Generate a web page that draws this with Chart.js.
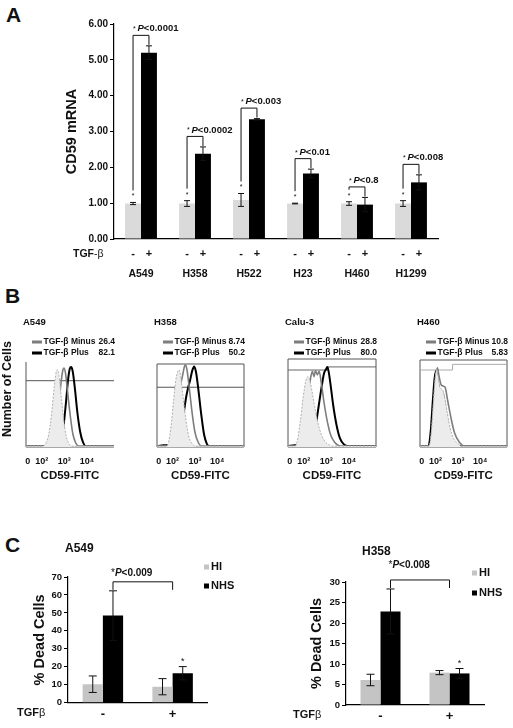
<!DOCTYPE html>
<html>
<head>
<meta charset="utf-8">
<script src="https://cdn.jsdelivr.net/npm/chart.js@4.4.1/dist/chart.umd.min.js"></script>
<style>
  body { margin: 0; background: #fff; width: 513px; height: 728px; position: relative; overflow: hidden; font-family: Arial, "Liberation Sans", sans-serif; }
  canvas { position: absolute; }
  .panel { position: absolute; font-weight: bold; font-size: 21px; line-height: 1; color: #111; }
</style>
</head>
<body>
<div class="panel" style="left:6px;top:4px">A</div>
<div class="panel" style="left:5px;top:285px">B</div>
<div class="panel" style="left:5px;top:534px">C</div>

<canvas id="chartA" width="513" height="290" style="left:0;top:0"></canvas>
<canvas id="flow1" width="128" height="170" style="left:0;top:315px"></canvas>
<canvas id="flow2" width="128" height="170" style="left:130px;top:315px"></canvas>
<canvas id="flow3" width="128" height="170" style="left:260px;top:315px"></canvas>
<canvas id="flow4" width="123" height="170" style="left:390px;top:315px"></canvas>
<canvas id="deadA549" width="250" height="188" style="left:0;top:540px"></canvas>
<canvas id="deadH358" width="253" height="188" style="left:260px;top:540px"></canvas>

<script>
// ---- A: CD59 mRNA, TGF-beta minus / plus ----
const cellLines = ['A549', 'H358', 'H522', 'H23', 'H460', 'H1299'];
const mrnaMinus = [0.99, 0.99, 1.09, 0.99, 0.99, 0.99];
const mrnaMinusErr = [0.03, 0.08, 0.18, 0.01, 0.05, 0.08];
const mrnaPlus = [5.20, 2.38, 3.34, 1.83, 0.96, 1.58];
const mrnaPlusErr = [0.19, 0.19, 0.02, 0.12, 0.20, 0.21];
const mrnaPvals = ['P<0.0001', 'P<0.0002', 'P<0.003', 'P<0.01', 'P<0.8', 'P<0.008'];

// ---- B: CD59-FITC histograms (x = log decades, y = % of panel height) ----
const flowTitles = ['A549', 'H358', 'Calu-3', 'H460'];
const flowMinusPct = ['26.4', '8.74', '28.8', '10.8'];
const flowPlusPct = ['82.1', '50.2', '80.0', '5.83'];
const flowTicks = [1.38, 2, 3, 4];
const flowTickLabels = ['0', '10²', '10³', '10⁴'];

const a549Iso = [[1.3,1],[2.0,1],[2.15,3],[2.3,14],[2.43,38],[2.54,68],[2.63,87],[2.69,91],[2.76,84],[2.86,60],[2.97,32],[3.08,13],[3.2,4],[3.35,1],[5.2,1]];
const a549Minus = [[1.3,1],[2.35,1],[2.5,5],[2.63,20],[2.75,48],[2.85,75],[2.93,90],[2.98,93],[3.05,87],[3.15,63],[3.27,35],[3.38,15],[3.5,5],[3.65,1],[5.2,1]];
const a549Plus = [[1.3,1],[2.7,1],[2.83,6],[2.96,24],[3.07,52],[3.16,78],[3.24,92],[3.3,94],[3.37,89],[3.47,68],[3.58,40],[3.7,18],[3.82,6],[3.95,1],[5.2,1]];
const a549Gate = [[1.3,78],[5.2,78]];

const h358Iso = [[1.3,1],[1.72,1],[1.82,6],[1.93,25],[2.04,55],[2.14,80],[2.22,90],[2.29,93],[2.36,85],[2.47,60],[2.6,32],[2.73,12],[2.88,4],[3.02,1],[5.2,1]];
const h358Minus = [[1.3,1],[1.88,1],[1.98,6],[2.1,25],[2.21,50],[2.3,70],[2.38,78],[2.46,88],[2.53,97],[2.58,99],[2.65,92],[2.76,68],[2.88,40],[3.0,18],[3.14,6],[3.3,1],[5.2,1]];
const h358Plus = [[1.3,1],[1.6,2],[1.9,3],[2.1,6],[2.25,12],[2.4,25],[2.52,45],[2.62,62],[2.7,72],[2.78,80],[2.88,92],[2.97,97],[3.05,90],[3.16,68],[3.28,40],[3.41,15],[3.53,4],[3.64,1],[5.2,1]];
const h358Gate = [[1.3,72],[5.2,72]];

const calu3Iso = [[1.3,1],[1.62,1],[1.72,8],[1.85,30],[1.98,58],[2.08,74],[2.18,80],[2.26,76],[2.36,64],[2.48,46],[2.62,28],[2.78,14],[2.95,6],[3.15,2],[3.3,1],[5.2,1]];
const calu3Minus = [[1.3,1],[1.85,1],[1.95,8],[2.07,30],[2.18,55],[2.28,75],[2.38,86],[2.45,80],[2.52,87],[2.6,82],[2.68,86],[2.78,72],[2.9,50],[3.05,28],[3.2,13],[3.38,5],[3.6,1],[5.2,1]];
const calu3Plus = [[1.3,1],[1.6,2],[2.0,3],[2.25,5],[2.4,12],[2.55,28],[2.68,50],[2.8,70],[2.9,84],[2.98,88],[3.04,91],[3.1,86],[3.18,72],[3.3,48],[3.45,25],[3.6,10],[3.78,3],[3.95,1],[5.2,1]];
const calu3Gate = [[1.3,87.5],[3.08,87.5],[3.08,91],[5.2,91]];

const h460Iso = [[1.3,1],[1.7,1],[1.8,15],[1.9,50],[1.98,78],[2.05,89],[2.12,80],[2.2,68],[2.3,66],[2.4,58],[2.52,40],[2.65,22],[2.8,10],[3.0,4],[3.15,1],[5.2,1]];
const h460Minus = [[1.3,1],[1.72,1],[1.82,15],[1.92,52],[2.0,80],[2.08,91],[2.15,82],[2.24,72],[2.34,70],[2.42,69],[2.55,52],[2.7,32],[2.85,16],[3.05,6],[3.3,1],[5.2,1]];
const h460Plus = [[1.3,1],[1.68,1],[1.78,18],[1.88,55],[1.96,80],[2.04,88],[2.1,76],[2.18,64],[2.26,63],[2.34,60],[2.45,42],[2.58,22],[2.72,9],[2.9,2],[3.0,1],[5.2,1]];
const h460Gate = [[1.3,88.5],[2.76,88.5],[2.76,95],[5.2,95]];

// ---- C: % dead cells, HI vs NHS serum ----
const treatments = ['-', '+'];
const a549HI = [10.3, 8.9];
const a549HIErr = [4.6, 4.5];
const a549NHS = [48.5, 16.4];
const a549NHSErr = [13.8, 3.7];
const h358HI = [6.1, 7.9];
const h358HIErr = [1.4, 0.5];
const h358NHS = [22.8, 7.7];
const h358NHSErr = [5.5, 1.2];

Chart.defaults.font.family = 'Arial, "Liberation Sans", sans-serif';
Chart.defaults.color = '#111';
Chart.defaults.animation = false;

const FONT = 'Arial, "Liberation Sans", sans-serif';

// error bars from the value +/- err, through the y scale
const errorBars = {
    id: 'errorBars',
    afterDatasetsDraw(chart, args, opts) {
        if (!opts.errors) return;
        const { ctx } = chart;
        const y = chart.scales.y;
        ctx.save();
        ctx.strokeStyle = '#111';
        ctx.lineWidth = 1;
        opts.errors.forEach((errs, di) => {
            const vals = chart.data.datasets[di].data;
            chart.getDatasetMeta(di).data.forEach((bar, i) => {
                const t = y.getPixelForValue(vals[i] + errs[i]);
                const b = y.getPixelForValue(vals[i] - errs[i]);
                ctx.beginPath();
                ctx.moveTo(bar.x, t); ctx.lineTo(bar.x, b);
                ctx.moveTo(bar.x - opts.cap, t); ctx.lineTo(bar.x + opts.cap, t);
                ctx.moveTo(bar.x - opts.cap, b); ctx.lineTo(bar.x + opts.cap, b);
                ctx.stroke();
            });
        });
        ctx.restore();
    }
};

// brackets, p values and the TGF-beta row of panel A
const mrnaNotes = {
    id: 'mrnaNotes',
    afterDraw(chart) {
        const { ctx } = chart;
        const y = chart.scales.y;
        const g = chart.getDatasetMeta(0).data;
        const b = chart.getDatasetMeta(1).data;
        ctx.save();
        ctx.fillStyle = '#111';
        ctx.strokeStyle = '#111';
        ctx.lineWidth = 1;
        ctx.textBaseline = 'middle';
        cellLines.forEach((c, i) => {
            const gTop = y.getPixelForValue(mrnaMinus[i] + mrnaMinusErr[i]);
            const bTop = y.getPixelForValue(mrnaPlus[i] + mrnaPlusErr[i]);
            const top = Math.min(gTop, bTop) - 10.5;
            ctx.beginPath();
            ctx.moveTo(g[i].x, gTop - 12);
            ctx.lineTo(g[i].x, top);
            ctx.lineTo(b[i].x, top);
            ctx.lineTo(b[i].x, bTop - 1);
            ctx.stroke();

            ctx.textAlign = 'center';
            ctx.font = '7px ' + FONT;
            ctx.fillText('*', g[i].x, gTop - 6);
            ctx.textAlign = 'left';
            ctx.fillText('*', g[i].x, top - 6);
            ctx.font = 'italic bold 9.5px ' + FONT;
            ctx.fillText('P', g[i].x + 4.5, top - 6.5);
            const w = ctx.measureText('P').width;
            ctx.font = 'bold 9.5px ' + FONT;
            ctx.fillText(mrnaPvals[i].slice(1), g[i].x + 4.5 + w, top - 6.5);

            ctx.textAlign = 'center';
            ctx.font = 'bold 11px ' + FONT;
            ctx.fillText('-', g[i].x, 254);
            ctx.fillText('+', b[i].x, 254);
        });
        ctx.textAlign = 'left';
        ctx.font = 'bold 10.5px ' + FONT;
        ctx.fillText('TGF', 73, 254);
        const tw = ctx.measureText('TGF').width;
        ctx.font = '10.5px ' + FONT;
        ctx.fillText('-β', 73 + tw, 254);
        ctx.restore();
    }
};

new Chart(document.getElementById('chartA'), {
    type: 'bar',
    data: {
        labels: cellLines,
        datasets: [
            { label: 'TGF-β -', data: mrnaMinus, backgroundColor: '#dadada' },
            { label: 'TGF-β +', data: mrnaPlus, backgroundColor: '#000' }
        ]
    },
    options: {
        responsive: false,
        layout: { padding: { top: 24, right: 75, left: 0, bottom: 0 } },
        datasets: { bar: { barPercentage: 1, categoryPercentage: 0.59 } },
        plugins: {
            legend: { display: false },
            tooltip: { enabled: false },
            errorBars: { errors: [mrnaMinusErr, mrnaPlusErr], cap: 3 }
        },
        scales: {
            x: {
                grid: { display: false },
                border: { color: '#000', width: 1.2 },
                ticks: { font: { size: 10.5, weight: 'bold' }, padding: 21 },
                afterFit: s => { s.height = 51; }
            },
            y: {
                min: 0, max: 6,
                ticks: { stepSize: 1, font: { size: 10, weight: 'bold' }, padding: 2, callback: v => v.toFixed(2) },
                grid: { drawOnChartArea: false, drawTicks: true, tickLength: 4, color: '#000' },
                border: { color: '#000', width: 1.2 },
                title: { display: true, text: 'CD59 mRNA', font: { size: 14.5, weight: 'bold' }, padding: { top: 63 } },
                afterFit: s => { s.width = 114; }
            }
        }
    },
    plugins: [errorBars, mrnaNotes]
});

// frame, legend and titles of a histogram panel
const flowDecor = {
    id: 'flowDecor',
    beforeDatasetsDraw(chart, args, o) {
        const { ctx, chartArea: a } = chart;
        ctx.save();
        ctx.strokeStyle = '#555';
        ctx.lineWidth = 1;
        ctx.beginPath();
        if (o.fullFrame) {
            ctx.moveTo(a.right, a.bottom);
            ctx.lineTo(a.right, a.top);
            ctx.lineTo(a.left, a.top);
        } else {
            ctx.moveTo(a.left, a.top);
        }
        ctx.lineTo(a.left, a.bottom);
        ctx.lineTo(a.right, a.bottom);
        ctx.stroke();
        ctx.restore();
    },
    afterDraw(chart, args, o) {
        const { ctx, chartArea: a } = chart;
        ctx.save();
        ctx.fillStyle = '#111';
        ctx.textBaseline = 'middle';
        ctx.textAlign = 'left';
        ctx.font = 'bold 9.5px ' + FONT;
        ctx.fillText(o.title, a.left - 3, 7);
        [['#7d7d7d', 'TGF-β Minus', o.minus, 27], ['#000', 'TGF-β Plus', o.plus, 38]].forEach(([c, t, v, ly]) => {
            ctx.fillStyle = c;
            ctx.fillRect(a.left + 6, ly - 1.5, 10, 3);
            ctx.fillStyle = '#111';
            ctx.font = 'bold 8.5px ' + FONT;
            ctx.textAlign = 'left';
            ctx.fillText(t, a.left + 17.5, ly);
            ctx.textAlign = 'right';
            ctx.fillText(v, a.right + 1, ly);
        });
        if (o.yTitle) {
            ctx.translate(8, 74);
            ctx.rotate(-Math.PI / 2);
            ctx.textAlign = 'center';
            ctx.font = 'bold 12.5px ' + FONT;
            ctx.fillText(o.yTitle, 0, 0);
        }
        ctx.restore();
    }
};

function flowChart(id, i, iso, minus, plus, gate, box) {
    new Chart(document.getElementById(id), {
        type: 'line',
        data: {
            datasets: [
                { data: iso, borderColor: '#b0b0b0', borderWidth: 1, borderDash: [2, 1.5], backgroundColor: '#ececec', fill: 'origin' },
                { data: minus, borderColor: '#7d7d7d', borderWidth: 1.6, fill: false },
                { data: plus, borderColor: '#000', borderWidth: 2, fill: false },
                { data: gate, borderColor: box.gateColor, borderWidth: 1, fill: false, cubicInterpolationMode: 'default', tension: 0 }
            ]
        },
        options: {
            responsive: false,
            layout: { padding: { top: box.top, right: box.right, left: 0, bottom: 0 } },
            elements: { point: { radius: 0 }, line: { cubicInterpolationMode: 'monotone' } },
            plugins: {
                legend: { display: false },
                tooltip: { enabled: false },
                flowDecor: { title: flowTitles[i], minus: flowMinusPct[i], plus: flowPlusPct[i], fullFrame: box.fullFrame, yTitle: box.yTitle }
            },
            scales: {
                x: {
                    type: 'linear', min: 1.3, max: 5.2,
                    afterBuildTicks: s => { s.ticks = flowTicks.map(v => ({ value: v })); },
                    ticks: { font: { size: 9, weight: 'bold' }, padding: 1.6, autoSkip: false, maxRotation: 0, callback: (v, k) => flowTickLabels[k] },
                    grid: { display: false },
                    border: { display: false },
                    title: { display: true, text: 'CD59-FITC', font: { size: 11.5, weight: 'bold' }, padding: { bottom: 2 } },
                    afterFit: s => { s.height = 38; }
                },
                y: {
                    min: 0, max: 100,
                    ticks: { display: false },
                    grid: { display: false },
                    border: { display: false },
                    afterFit: s => { s.width = box.left; }
                }
            }
        },
        plugins: [flowDecor]
    });
}

flowChart('flow1', 0, a549Iso, a549Minus, a549Plus, a549Gate, { left: 26, top: 47, right: 14, fullFrame: false, gateColor: '#555', yTitle: 'Number of Cells' });
flowChart('flow2', 1, h358Iso, h358Minus, h358Plus, h358Gate, { left: 27, top: 49, right: 14, fullFrame: true, gateColor: '#555' });
flowChart('flow3', 2, calu3Iso, calu3Minus, calu3Plus, calu3Gate, { left: 28, top: 44, right: 12, fullFrame: true, gateColor: '#666' });
flowChart('flow4', 3, h460Iso, h460Minus, h460Plus, h460Gate, { left: 30, top: 45, right: 6, fullFrame: true, gateColor: '#aaa' });

// title, legend, bracket and TGF-beta label of a panel C chart
const deadNotes = {
    id: 'deadNotes',
    afterDraw(chart, args, o) {
        const { ctx } = chart;
        const x = chart.scales.x, y = chart.scales.y;
        const nhs = chart.data.datasets[1].data;
        const nb = chart.getDatasetMeta(1).data;
        ctx.save();
        ctx.fillStyle = '#111';
        ctx.strokeStyle = '#111';
        ctx.lineWidth = 1;
        ctx.textBaseline = 'middle';
        ctx.textAlign = 'left';
        ctx.font = 'bold 12px ' + FONT;
        ctx.fillText(o.title, o.titleX, o.titleY);

        chart.data.datasets.forEach((ds, i) => {
            const ly = o.legendY + i * o.legendGap;
            ctx.fillStyle = ds.backgroundColor;
            ctx.fillRect(o.legendX, ly - 2.5, 5, 5);
            ctx.fillStyle = '#111';
            ctx.font = 'bold 11px ' + FONT;
            ctx.fillText(ds.label, o.legendX + 7, ly);
        });

        const l = nb[0].x, r = x.getPixelForValue(1);
        const top = y.getPixelForValue(nhs[0] + o.nhsErr[0]) - 9;
        ctx.beginPath();
        ctx.moveTo(l, top + 8); ctx.lineTo(l, top); ctx.lineTo(r, top); ctx.lineTo(r, top + 8);
        ctx.stroke();

        let tx = l - 2;
        const ty = top + o.pDy;
        ctx.font = '10px ' + FONT;
        ctx.fillText('*', tx, ty);
        tx += ctx.measureText('*').width;
        ctx.font = 'italic bold 10px ' + FONT;
        ctx.fillText('P', tx, ty);
        tx += ctx.measureText('P').width;
        ctx.font = 'bold 10px ' + FONT;
        ctx.fillText(o.pText, tx, ty);

        ctx.textAlign = 'center';
        ctx.font = '9px ' + FONT;
        ctx.fillText('*', nb[1].x, y.getPixelForValue(nhs[1] + o.nhsErr[1]) - 5);

        ctx.textAlign = 'left';
        ctx.font = 'bold 11px ' + FONT;
        ctx.fillText('TGF', o.tgfX, o.tgfY);
        const tw = ctx.measureText('TGF').width;
        ctx.font = '11px ' + FONT;
        ctx.fillText('β', o.tgfX + tw, o.tgfY);
        ctx.restore();
    }
};

function deadChart(id, hi, hiErr, nhs, nhsErr, yMax, yStep, lay, notes) {
    new Chart(document.getElementById(id), {
        type: 'bar',
        data: {
            labels: treatments,
            datasets: [
                { label: 'HI', data: hi, backgroundColor: '#c4c4c4' },
                { label: 'NHS', data: nhs, backgroundColor: '#000' }
            ]
        },
        options: {
            responsive: false,
            layout: { padding: { top: lay.top, right: lay.right, left: 0, bottom: 0 } },
            datasets: { bar: { barPercentage: 1, categoryPercentage: 0.58 } },
            plugins: {
                legend: { display: false },
                tooltip: { enabled: false },
                errorBars: { errors: [hiErr, nhsErr], cap: 4 },
                deadNotes: Object.assign({ nhsErr: nhsErr }, notes)
            },
            scales: {
                x: {
                    grid: { display: false, tickLength: 0 },
                    border: { color: '#000', width: 1.2 },
                    ticks: { font: { size: 13, weight: 'bold' }, padding: 3.5 },
                    afterFit: s => { s.height = lay.xh; }
                },
                y: {
                    min: 0, max: yMax,
                    ticks: { stepSize: yStep, font: { size: 9.5, weight: 'bold' }, padding: 2 },
                    grid: { drawOnChartArea: false, drawTicks: true, tickLength: 4, color: '#000' },
                    border: { color: '#000', width: 1.2 },
                    title: { display: true, text: '% Dead Cells', font: { size: 14.5, weight: 'bold' }, padding: { top: lay.titlePad } },
                    afterFit: s => { s.width = lay.yw; }
                }
            }
        },
        plugins: [errorBars, deadNotes]
    });
}

deadChart('deadA549', a549HI, a549HIErr, a549NHS, a549NHSErr, 70, 10,
    { top: 37, right: 42.5, xh: 25.3, yw: 68, titlePad: 31 },
    { title: 'A549', titleX: 65, titleY: 9, legendX: 204, legendY: 27, legendGap: 19, pText: '<0.009', pDy: -8.5, tgfX: 17, tgfY: 173 });
deadChart('deadH358', h358HI, h358HIErr, h358NHS, h358NHSErr, 30, 5,
    { top: 42, right: 29, xh: 23, yw: 86, titlePad: 48 },
    { title: 'H358', titleX: 102, titleY: 12, legendX: 212, legendY: 33, legendGap: 20, pText: '<0.008', pDy: -15, tgfX: 33, tgfY: 175 });
</script>
</body>
</html>
